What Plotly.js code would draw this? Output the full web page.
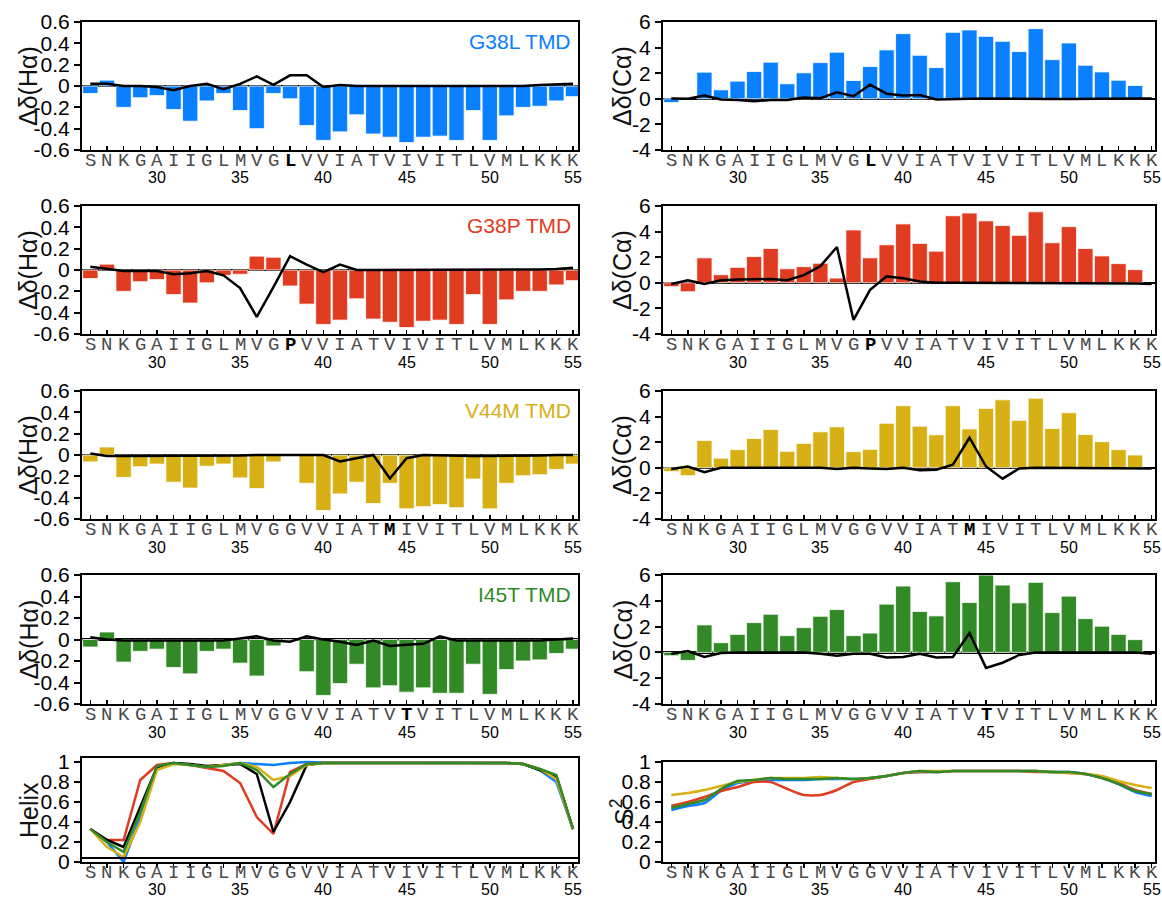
<!DOCTYPE html>
<html>
<head>
<meta charset="utf-8">
<script src="https://cdn.plot.ly/plotly-3.0.1.min.js"></script>
<style>html,body{margin:0;padding:0;background:#fff;}#chart{width:1162px;height:897px;}</style>
</head>
<body>
<div id="chart"></div>
<script>
// ---------------- DATA ----------------
const residues = [26,27,28,29,30,31,32,33,34,35,36,37,38,39,40,41,42,43,44,45,46,47,48,49,50,51,52,53,54,55];
const wtSeq = ['S','N','K','G','A','I','I','G','L','M','V','G','G','V','V','I','A','T','V','I','V','I','T','L','V','M','L','K','K','K'];
const numberTicks = [30,35,40,45,50,55];

const mutantNames = ['G38L TMD','G38P TMD','V44M TMD','I45T TMD'];
const mutantPos = [38,38,44,45];
const mutantAA = ['L','P','M','T'];

const haTickVals = [-0.6,-0.4,-0.2,0,0.2,0.4,0.6];
const haTickText = ['-0.6','-0.4','-0.2','0','0.2','0.4','0.6'];
const caTickVals = [-4,-2,0,2,4,6];
const caTickText = ['-4','-2','0','2','4','6'];
const fracTickVals = [0,0.2,0.4,0.6,0.8,1];
const fracTickText = ['0','0.2','0.4','0.6','0.8','1'];

// Δδ(Hα) bars
const haG38L = [-0.07,0.055,-0.2,-0.11,-0.09,-0.22,-0.33,-0.14,-0.07,-0.23,-0.40,-0.07,-0.12,-0.37,-0.51,-0.43,-0.27,-0.45,-0.48,-0.53,-0.48,-0.47,-0.51,-0.23,-0.51,-0.28,-0.2,-0.19,-0.14,-0.1];
const haG38P = [-0.08,0.055,-0.2,-0.11,-0.09,-0.23,-0.31,-0.12,-0.05,-0.04,0.13,0.12,-0.15,-0.32,-0.51,-0.47,-0.27,-0.46,-0.49,-0.54,-0.48,-0.47,-0.51,-0.23,-0.51,-0.28,-0.2,-0.2,-0.14,-0.1];
const haV44M = [-0.065,0.075,-0.21,-0.11,-0.085,-0.255,-0.31,-0.105,-0.085,-0.215,-0.315,-0.065,null,-0.265,-0.52,-0.365,-0.255,-0.455,-0.265,-0.505,-0.485,-0.465,-0.495,-0.225,-0.505,-0.265,-0.195,-0.185,-0.135,-0.085];
const haI45T = [-0.07,0.07,-0.21,-0.11,-0.09,-0.26,-0.32,-0.11,-0.09,-0.22,-0.34,-0.06,-0.01,-0.30,-0.52,-0.41,-0.23,-0.45,-0.43,-0.49,-0.45,-0.50,-0.50,-0.23,-0.51,-0.28,-0.2,-0.19,-0.13,-0.09];
// Δδ(Hα) black difference lines
const haLineG38L = [0.02,0.02,0,0,-0.01,-0.04,0,0.02,-0.03,0.02,0.09,0.01,0.1,0.1,-0.01,0.01,0,0,0,0,0,0,0,0,0,0,0,0.01,0.015,0.02];
const haLineG38P = [0.03,0.01,-0.01,-0.01,-0.01,-0.04,-0.03,-0.01,-0.05,-0.17,-0.44,-0.16,0.13,0.05,-0.02,0.05,0,0,0,0,0,0,0,0,0,0,0,0.005,0.01,0.02];
const haLineV44M = [0.015,-0.01,-0.01,-0.01,-0.01,-0.01,-0.01,-0.01,-0.01,-0.005,0,0,0,-0.005,0,-0.06,-0.03,0,-0.22,-0.03,0,-0.005,-0.01,-0.01,-0.01,-0.01,-0.01,-0.005,0,0];
const haLineI45T = [0.02,0,-0.01,-0.01,-0.01,-0.01,-0.01,-0.01,-0.01,0.01,0.03,-0.01,-0.02,0.03,0,-0.02,-0.05,-0.01,-0.06,-0.05,-0.04,0.03,-0.01,-0.01,-0.01,-0.01,-0.01,-0.01,0,0.01];

// Δδ(Cα) bars
const caG38L = [-0.29,null,2.08,0.7,1.38,2.13,2.86,1.17,2.03,2.83,3.64,1.43,2.52,3.82,5.09,3.4,2.44,5.19,5.38,4.88,4.49,3.69,5.48,3.06,4.36,2.62,2.1,1.45,1.04,null];
const caG38P = [-0.3,-0.7,1.95,0.63,1.21,2.05,2.68,1.1,1.26,1.53,0.37,4.13,1.95,2.97,4.6,3.08,2.47,5.24,5.45,4.84,4.47,3.71,5.55,3.13,4.39,2.68,2.1,1.5,1.03,null];
const caV44M = [-0.3,-0.62,2.14,0.75,1.42,2.29,2.99,1.29,1.91,2.81,3.2,1.26,1.44,3.48,4.85,3.25,2.58,4.85,3.04,4.64,5.31,3.71,5.44,3.07,4.3,2.6,2.04,1.42,1.0,null];
const caI45T = [-0.26,-0.62,2.13,0.75,1.4,2.31,2.96,1.3,1.92,2.8,3.32,1.3,1.5,3.74,5.14,3.17,2.83,5.48,3.87,6.0,5.22,3.84,5.43,3.09,4.36,2.62,2.03,1.4,0.99,null];
// Δδ(Cα) black difference lines
const caLineG38L = [0.02,0,0.25,-0.05,-0.1,-0.2,-0.1,-0.1,0.1,0.05,0.5,0.2,1.1,0.4,0.25,0.3,-0.05,0,0,0.02,0,0,-0.02,-0.02,-0.02,0,0.02,0,0.02,0.02];
const caLineG38P = [-0.1,0.2,-0.1,0.2,0.25,0.3,0.3,0.2,0.6,1.3,2.8,-2.9,-0.55,0.5,0.35,0.1,0,0,0,0,0,0,0,0,0,0,0,0,-0.05,-0.1];
const caLineV44M = [-0.1,0.1,-0.35,0,0,0,0,0,0,0,-0.1,0,-0.05,-0.1,0,-0.2,-0.15,0.25,2.35,0.1,-0.85,-0.05,0,0,0,0,0,0,0,-0.05];
const caLineI45T = [-0.1,0.1,-0.35,-0.05,0,0,0,0,0,-0.1,-0.25,-0.1,-0.1,-0.4,-0.35,-0.1,-0.4,-0.35,1.5,-1.2,-0.8,-0.2,0,0,0,0,0,0,0,-0.1];

// Helix propensity
const helixWT   = [0.33,0.22,0.15,0.55,0.95,0.99,0.98,0.96,0.97,0.98,0.88,0.30,0.60,0.97,0.99,0.99,0.99,0.99,0.99,0.99,0.99,0.99,0.99,0.99,0.99,0.99,0.98,0.92,0.85,0.33];
const helixG38L = [0.33,0.20,0.00,0.45,0.95,0.99,0.97,0.95,0.97,0.99,0.98,0.97,0.99,1.00,0.995,0.995,0.995,0.995,0.995,0.995,0.995,0.995,0.995,0.995,0.995,0.99,0.98,0.92,0.80,0.33];
const helixG38P = [0.33,0.22,0.22,0.82,0.97,0.99,0.97,0.94,0.91,0.79,0.45,0.28,0.90,0.98,0.99,0.99,0.99,0.99,0.99,0.99,0.99,0.99,0.99,0.99,0.99,0.99,0.98,0.93,0.86,0.33];
const helixV44M = [0.33,0.15,0.05,0.40,0.92,0.98,0.97,0.95,0.97,0.99,0.95,0.82,0.86,0.97,0.99,0.99,0.99,0.99,0.99,0.99,0.99,0.99,0.99,0.99,0.99,0.99,0.98,0.93,0.83,0.33];
const helixI45T = [0.33,0.20,0.10,0.50,0.96,0.99,0.97,0.95,0.96,0.99,0.92,0.75,0.88,0.98,0.99,0.99,0.99,0.99,0.99,0.99,0.99,0.99,0.99,0.99,0.99,0.99,0.98,0.93,0.87,0.33];

// Order parameter S²
const s2G38L = [0.52,0.56,0.59,0.71,0.79,0.81,0.82,0.82,0.82,0.83,0.83,0.83,0.84,0.86,0.89,0.90,0.90,0.91,0.91,0.91,0.91,0.91,0.91,0.90,0.90,0.88,0.84,0.78,0.70,0.66];
const s2G38P = [0.56,0.60,0.65,0.71,0.75,0.80,0.80,0.73,0.67,0.67,0.72,0.80,0.83,0.86,0.89,0.90,0.90,0.91,0.91,0.91,0.91,0.91,0.90,0.90,0.89,0.88,0.84,0.79,0.72,0.68];
const s2V44M = [0.67,0.69,0.72,0.76,0.80,0.82,0.84,0.84,0.84,0.85,0.84,0.83,0.84,0.86,0.89,0.91,0.91,0.91,0.91,0.91,0.91,0.91,0.91,0.90,0.89,0.88,0.86,0.81,0.77,0.74];
const s2I45T = [0.54,0.58,0.62,0.73,0.81,0.82,0.84,0.83,0.83,0.83,0.84,0.83,0.84,0.86,0.89,0.91,0.90,0.91,0.91,0.91,0.91,0.91,0.91,0.90,0.90,0.88,0.84,0.78,0.71,0.68];

const mutantColors = ['#0a80ff','#e03c22','#d6b014','#318a26'];

// ---------------- LAYOUT ----------------
const W = 1162, H = 897;
const colPx = [[82,578],[663,1155]];
const rowPx = [[22,150],[206,334],[391,519],[575,704],[758,862],[762,862]];
const fx = px => px / W;
const fy = px => 1 - px / H;

const haBars = [haG38L, haG38P, haV44M, haI45T];
const haLines = [haLineG38L, haLineG38P, haLineV44M, haLineI45T];
const caBars = [caG38L, caG38P, caV44M, caI45T];
const caLines = [caLineG38L, caLineG38P, caLineV44M, caLineI45T];

const traces = [];
const layout = {
  width: W, height: H,
  margin: {l:0, r:0, t:0, b:0},
  paper_bgcolor: '#fff', plot_bgcolor: '#fff',
  showlegend: false, bargap: 0.08,
  font: {family: 'Liberation Sans, Arial, sans-serif', color: '#000'},
  annotations: [], shapes: []
};

function letterText(row) {
  return wtSeq.map((l, i) => (row < 4 && residues[i] === mutantPos[row])
    ? '<b>' + mutantAA[row] + '</b>' : l);
}

function addAxes(k, row, col, yRange, yVals, yText, zero, topPx, botPx) {
  const xk = k === 1 ? 'xaxis' : 'xaxis' + k;
  const yk = k === 1 ? 'yaxis' : 'yaxis' + k;
  const xref = k === 1 ? 'x' : 'x' + k;
  const xr = col === 0 ? [25.5, 55.3] : [25.5, 55.2];
  layout[xk] = {
    domain: [fx(colPx[col][0]), fx(colPx[col][1])],
    anchor: k === 1 ? 'y' : 'y' + k,
    range: xr, fixedrange: true,
    tickmode: 'array', tickvals: residues, showticklabels: false,
    ticks: row === 4 ? 'outside' : 'inside', ticklen: 4, tickwidth: 1.5, tickcolor: '#000',
    showline: true, linecolor: '#000', linewidth: 2, mirror: true,
    showgrid: false, zeroline: false
  };
  layout[yk] = {
    domain: [fy(botPx), fy(topPx)],
    anchor: k === 1 ? 'x' : 'x' + k,
    range: yRange, fixedrange: true,
    tickmode: 'array', tickvals: yVals, ticktext: yText,
    ticks: 'outside', ticklen: 6, tickwidth: 2, tickcolor: '#000',
    tickfont: {family: 'Liberation Sans, Arial, sans-serif', size: 21, color: '#000'},
    showline: true, linecolor: '#000', linewidth: 2, mirror: true,
    showgrid: false,
    zeroline: zero, zerolinecolor: '#000', zerolinewidth: 2.5
  };
  // residue letters (category tick labels)
  const letters = letterText(row);
  residues.forEach((r, i) => {
    const isMut = letters[i].indexOf('<b>') === 0;
    layout.annotations.push({
      xref: xref, yref: 'paper', x: r, y: fy(botPx + 11),
      text: letters[i], showarrow: false, xanchor: 'center', yanchor: 'middle',
      font: {family: 'Liberation Mono, Courier New, monospace', size: 19, color: isMut ? '#000' : '#4a4a4a'}
    });
  });
  // residue numbers
  numberTicks.forEach(v => layout.annotations.push({
    xref: xref, yref: 'paper', x: v, y: fy(botPx + (row === 4 ? 27 : 28)),
    text: String(v), showarrow: false, xanchor: 'center', yanchor: 'middle',
    font: {family: 'Liberation Sans, Arial, sans-serif', size: 16, color: '#000'}
  }));
}

function yTitle(text, xpx, topPx, botPx) {
  layout.annotations.push({
    xref: 'paper', yref: 'paper', x: fx(xpx), y: fy((topPx + botPx) / 2),
    text: text, showarrow: false, textangle: -90, xanchor: 'center', yanchor: 'middle',
    font: {family: 'Liberation Sans, Arial, sans-serif', size: 25, color: '#111'}
  });
}

for (let m = 0; m < 4; m++) {
  const [t, b] = rowPx[m];
  const kL = 2 * m + 1, kR = 2 * m + 2;
  const xL = kL === 1 ? 'x' : 'x' + kL, yL = kL === 1 ? 'y' : 'y' + kL;
  const xR = 'x' + kR, yR = 'y' + kR;
  addAxes(kL, m, 0, [-0.6, 0.6], haTickVals, haTickText, true, t, b);
  addAxes(kR, m, 1, [-4, 6], caTickVals, caTickText, true, t, b);
  traces.push({type: 'bar', x: residues, y: haBars[m], xaxis: xL, yaxis: yL,
    marker: {color: mutantColors[m], line: {color: 'rgba(255,255,255,0.8)', width: 1}}});
  traces.push({type: 'scatter', mode: 'lines', x: residues, y: haLines[m], xaxis: xL, yaxis: yL,
    line: {color: '#000', width: 2.5}});
  traces.push({type: 'bar', x: residues, y: caBars[m], xaxis: xR, yaxis: yR,
    marker: {color: mutantColors[m], line: {color: 'rgba(255,255,255,0.8)', width: 1}}});
  traces.push({type: 'scatter', mode: 'lines', x: residues, y: caLines[m], xaxis: xR, yaxis: yR,
    line: {color: '#000', width: 2.5}});
  yTitle('Δδ(Hα)', 28, t, b);
  yTitle('Δδ(Cα)', 622, t, b);
  layout.annotations.push({
    xref: 'paper', yref: 'paper', x: fx(colPx[0][1] - 5), y: fy(t + 19),
    text: mutantNames[m], showarrow: false, xanchor: 'right', yanchor: 'middle',
    font: {family: 'Liberation Sans, Arial, sans-serif', size: 21, color: mutantColors[m]}
  });
}

// bottom row
addAxes(9, 4, 0, [0, 1.04], fracTickVals, fracTickText, false, rowPx[4][0], rowPx[4][1]);
addAxes(10, 4, 1, [0, 1], fracTickVals, fracTickText, false, rowPx[5][0], rowPx[5][1]);
yTitle('Helix', 29, rowPx[4][0], rowPx[4][1]);
yTitle('S<sup>2</sup>', 622, rowPx[5][0], rowPx[5][1]);
layout.shapes.push({type: 'line', xref: 'paper', yref: 'y9', x0: fx(colPx[0][0]), x1: fx(colPx[0][1]),
  y0: 0.04, y1: 0.04, line: {color: '#000', width: 2}});

const helixSeries = [helixG38L, helixG38P, helixWT, helixV44M, helixI45T];
const helixColors = [mutantColors[0], mutantColors[1], '#000', mutantColors[2], mutantColors[3]];
helixSeries.forEach((s, i) => traces.push({type: 'scatter', mode: 'lines', x: residues, y: s,
  xaxis: 'x9', yaxis: 'y9', line: {color: helixColors[i], width: 2.5}}));

const s2Series = [s2G38L, s2G38P, s2V44M, s2I45T];
s2Series.forEach((s, i) => traces.push({type: 'scatter', mode: 'lines', x: residues, y: s,
  xaxis: 'x10', yaxis: 'y10', line: {color: mutantColors[i], width: 2.5, shape: 'spline', smoothing: 0.6}}));

Plotly.newPlot('chart', traces, layout, {staticPlot: true, displayModeBar: false});
</script>
</body>
</html>
